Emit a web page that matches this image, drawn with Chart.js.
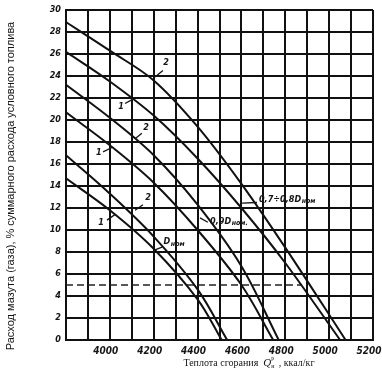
<!DOCTYPE html>
<html>
<head>
<meta charset="utf-8">
<script src="https://cdn.jsdelivr.net/npm/chart.js@4/dist/chart.umd.min.js"></script>
<style>
  html, body { margin: 0; padding: 0; background: #fff; }
  #wrap { width: 382px; height: 387px; position: relative; }
</style>
</head>
<body>
<div id="wrap"><canvas id="chart-ctx"></canvas></div>
<script>
// кривые 1 и 2 для трёх нагрузок: Dном, 0,9Dном, 0,7÷0,8Dном
const dnom1X = [3800, 4000, 4200, 4400, 4510];
const dnom1Y = [14.7, 11.8, 8.3, 3.7, 0];
const dnom2X = [3800, 4000, 4200, 4400, 4535];
const dnom2Y = [16.8, 13.3, 9.4, 4.6, 0];

const d09n1X = [3800, 4000, 4200, 4400, 4600, 4745];
const d09n1Y = [20.7, 17.7, 14.3, 10.0, 5.0, 0];
const d09n2X = [3800, 4000, 4200, 4400, 4600, 4770];
const d09n2Y = [23.2, 20.2, 16.8, 12.3, 6.7, 0];

const d078n1X = [3800, 4000, 4200, 4400, 4600, 4800, 5050];
const d078n1Y = [26.2, 23.5, 20.4, 16.5, 12.0, 7.0, 0];
const d078n2X = [3800, 4000, 4200, 4400, 4600, 4800, 5075];
const d078n2Y = [28.9, 26.3, 23.6, 19.4, 14.2, 8.4, 0];

// штриховая линия на 5 %
const limitX = [3800, 4876];
const limitY = [5, 5];

const xLabeled = [4000, 4200, 4400, 4600, 4800, 5000, 5200];

const yTitle = "Расход мазута (газа), % суммарного расхода условного топлива";
const xTitle = "Теплота сгорания";
const xUnit = " , ккал/кг";

// подписи кривых (в единицах осей) и выноски
const curveNotes = [
    { text: "2", x: 4256, y: 25.2, from: [4242, 24.5], to: [4206, 23.9] },
    { text: "1", x: 4051, y: 21.2, from: [4069, 21.5], to: [4106, 21.9] },
    { text: "2", x: 4165, y: 19.3, from: [4146, 18.8], to: [4115, 18.3] },
    { text: "1", x: 3950, y: 17.0, from: [3969, 17.1], to: [4010, 17.5] },
    { text: "2", x: 4174, y: 12.9, from: [4151, 12.3], to: [4115, 11.8] },
    { text: "1", x: 3960, y: 10.7, from: [3987, 10.9], to: [4023, 11.4] },
];
const loadNotes = [
    { pre: "", x: 4245, y: 8.9, post: "", from: [4238, 8.45], to: [4206, 8.2] },
    { pre: "0,9", x: 4457, y: 10.8, post: ".", from: [4447, 10.7], to: [4411, 11.1] },
    { pre: "0,7÷0,8", x: 4680, y: 12.8, post: "", from: [4671, 12.5], to: [4603, 12.45] },
];

function toPoints(xs, ys) {
    return xs.map((x, i) => ({ x: x, y: ys[i] }));
}

function curve(xs, ys) {
    return {
        data: toPoints(xs, ys),
        borderColor: "#111",
        borderWidth: 2,
        pointRadius: 0,
        tension: 0.35,
        fill: false,
    };
}

const ink = "#151515";
const narrow = "'Liberation Sans Narrow', 'DejaVu Sans Condensed', 'Liberation Sans', sans-serif";
const labelFont = "bold italic 9px " + narrow;

const notesPlugin = {
    id: "notes",
    afterDraw(chart) {
        const ctx = chart.ctx;
        const sx = chart.scales.x;
        const sy = chart.scales.y;
        const px = (v) => sx.getPixelForValue(v);
        const py = (v) => sy.getPixelForValue(v);

        ctx.save();
        ctx.fillStyle = ink;
        ctx.strokeStyle = ink;
        ctx.lineWidth = 1.3;

        ctx.font = labelFont;
        ctx.textAlign = "center";
        ctx.textBaseline = "middle";
        curveNotes.forEach((n) => {
            ctx.fillText(n.text, px(n.x), py(n.y));
            ctx.beginPath();
            ctx.moveTo(px(n.from[0]), py(n.from[1]));
            ctx.lineTo(px(n.to[0]), py(n.to[1]));
            ctx.stroke();
        });

        ctx.textAlign = "left";
        loadNotes.forEach((n) => {
            let x = px(n.x);
            const y = py(n.y);
            ctx.font = labelFont;
            ctx.fillText(n.pre + "D", x, y);
            x += ctx.measureText(n.pre + "D").width + 0.5;
            ctx.font = "bold italic 7px " + narrow;
            ctx.fillText("ном" + n.post, x, y + 2);
            ctx.beginPath();
            ctx.moveTo(px(n.from[0]), py(n.from[1]));
            ctx.lineTo(px(n.to[0]), py(n.to[1]));
            ctx.stroke();
        });

        // подпись оси Y
        ctx.save();
        ctx.translate(11, 186);
        ctx.rotate(-Math.PI / 2);
        ctx.font = "11px 'Liberation Sans', Arial, sans-serif";
        ctx.textAlign = "center";
        ctx.fillText(yTitle, 0, 0);
        ctx.restore();

        // подпись оси X: Теплота сгорания Qнр, ккал/кг
        const serif = "'Liberation Serif', 'Times New Roman', serif";
        ctx.textAlign = "left";
        ctx.textBaseline = "alphabetic";
        const base = 366;
        ctx.font = "10px " + serif;
        const w1 = ctx.measureText(xTitle + "  ").width;
        ctx.font = "italic 11px " + serif;
        const wq = ctx.measureText("Q").width;
        ctx.font = "10px " + serif;
        const w3 = ctx.measureText(xUnit).width;
        let x = 249 - (w1 + wq + 5 + w3) / 2;
        ctx.font = "10px " + serif;
        ctx.fillText(xTitle + "  ", x, base);
        x += w1;
        ctx.font = "italic 11px " + serif;
        ctx.fillText("Q", x, base);
        x += wq;
        ctx.font = "6px " + serif;
        ctx.fillText("р", x, base - 6);
        ctx.fillText("н", x, base + 2);
        x += 5;
        ctx.font = "10px " + serif;
        ctx.fillText(xUnit, x, base);

        ctx.restore();
    },
};

const ctx = document.getElementById("chart-ctx");

new Chart(ctx, {
    type: "line",
    data: {
        datasets: [
            curve(d078n2X, d078n2Y),
            curve(d078n1X, d078n1Y),
            curve(d09n2X, d09n2Y),
            curve(d09n1X, d09n1Y),
            curve(dnom2X, dnom2Y),
            curve(dnom1X, dnom1Y),
            {
                data: toPoints(limitX, limitY),
                borderColor: "#222",
                borderWidth: 1.6,
                borderDash: [7, 4],
                pointRadius: 0,
                fill: false,
            },
        ],
    },
    options: {
        responsive: true,
        maintainAspectRatio: false,
        animation: false,
        layout: {
            padding: { top: 10, right: 9, left: 0, bottom: 0 },
        },
        plugins: {
            legend: { display: false },
            tooltip: { enabled: false },
        },
        scales: {
            x: {
                type: "linear",
                min: 3800,
                max: 5200,
                ticks: {
                    stepSize: 100,
                    autoSkip: false,
                    maxRotation: 0,
                    padding: 5,
                    labelOffset: -4,
                    color: ink,
                    font: { family: narrow, size: 10, weight: "bold", style: "italic" },
                    callback: (v) => (xLabeled.includes(v) ? String(v) : ""),
                },
                grid: { color: "#111", lineWidth: 2, drawTicks: false },
                border: { color: "#111", width: 2 },
                afterFit: (s) => {
                    s.height = 47;
                    s.paddingLeft = 0;
                    s.paddingRight = 0;
                },
            },
            y: {
                min: 0,
                max: 30,
                ticks: {
                    stepSize: 2,
                    padding: 5,
                    color: ink,
                    font: { family: narrow, size: 9, weight: "bold", style: "italic" },
                },
                grid: { color: "#111", lineWidth: 2, drawTicks: false },
                border: { color: "#111", width: 2 },
                afterFit: (s) => {
                    s.width = 66;
                    s.paddingTop = 0;
                    s.paddingBottom = 0;
                },
            },
        },
    },
    plugins: [notesPlugin],
});
</script>
</body>
</html>
